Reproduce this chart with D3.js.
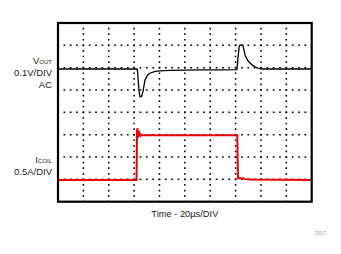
<!DOCTYPE html>
<html lang="en">
<head>
  <meta charset="UTF-8">
  <title>Load transient</title>
  <style>
    body { margin: 0; background: #fff; }
    text { font-family: "Liberation Sans", Arial, sans-serif; fill: #1a1a1a; }
  </style>
</head>
<body>
<div id="chart"></div>
<script src="https://d3js.org/d3.v7.min.js"></script>
<script>
  // time in us (20us/div), Vout in mV (AC, 0.1V/div), Icoil in A (0.5A/div)
  const vTime = [0, 30, 62.3, 62.7, 63.9, 64.6, 65.8, 67, 68.6, 70.6, 72.5, 76.5, 80.4, 88.3, 100, 112, 127.7, 141.1,
                 141.9, 142.8, 143.4, 145.8, 147.4, 149.4, 151.4, 153.8, 155.4, 157.7, 160.8, 200];
  const vOut  = [0, 0, 0, -10, -100, -124, -124, -100, -49, -27, -19, -11, -8, -6, -5, -4, -4, -3,
                 50, 100, 107, 107, 63, 40, 27, 15, 9, 4, 0, 0];

  const iTime = [0, 61.9, 62.3, 62.7, 63.1, 63.5, 63.9, 64.4, 65, 65.8, 67.4, 141.3, 141.9, 145.8, 147.4, 151.4, 200];
  const iCoil = [0, 0, 1.1, 1.16, 0.95, 1.08, 0.98, 1.04, 0.99, 1.01, 1.0, 1.0, 0.04, 0.04, 0.02, 0.01, 0];

  const width = 341, height = 254;
  const pLeft = 58, pRight = 311.7, pTop = 23, pBottom = 201.7;

  const svg = d3.select("#chart").append("svg")
    .attr("width", width)
    .attr("height", height);

  const x = d3.scaleLinear().domain([0, 200]).range([pLeft, pRight]);
  const y = d3.scaleLinear().domain([0, 8]).range([pTop, pBottom]);   // screen divisions

  // channel offsets (in divisions from top)
  const vZero = 2.06, iZero = 7.03;
  const vY = d => y(vZero - d / 100);
  const iY = d => y(iZero - d / 0.5);

  // dotted grid, 4 dots per division
  const dot = 1.7;
  const px = (x(20) - x(0)) / 4, py = (y(1) - y(0)) / 4;
  const grid = svg.append("g")
    .attr("stroke", "#000")
    .attr("stroke-width", 1.5);

  grid.selectAll(".gx")
    .data(d3.range(20, 200, 20))
    .enter().append("line")
    .attr("x1", d => x(d)).attr("x2", d => x(d))
    .attr("y1", pTop).attr("y2", pBottom)
    .attr("stroke-dasharray", `${dot},${py - dot}`)
    .attr("stroke-dashoffset", dot / 2);

  grid.selectAll(".gy")
    .data(d3.range(1, 8))
    .enter().append("line")
    .attr("y1", d => y(d)).attr("y2", d => y(d))
    .attr("x1", pLeft).attr("x2", pRight)
    .attr("stroke-dasharray", `${dot},${px - dot}`)
    .attr("stroke-dashoffset", dot / 2);

  const vLine = d3.line().x((d, i) => x(vTime[i])).y(d => vY(d));
  const iLine = d3.line().x((d, i) => x(iTime[i])).y(d => iY(d));

  svg.append("path")
    .attr("d", iLine(iCoil))
    .attr("fill", "none")
    .attr("stroke", "#ee0000")
    .attr("stroke-width", 2);

  svg.append("path")
    .attr("d", vLine(vOut))
    .attr("fill", "none")
    .attr("stroke", "#000")
    .attr("stroke-width", 1.3);

  // frame
  svg.append("rect")
    .attr("x", pLeft).attr("y", pTop)
    .attr("width", pRight - pLeft).attr("height", pBottom - pTop)
    .attr("fill", "none")
    .attr("stroke", "#000")
    .attr("stroke-width", 2.2);

  // labels
  const lab = svg.append("g")
    .attr("text-anchor", "end")
    .style("font-size", "9.5px");

  const vt = lab.append("text").attr("x", 52).attr("y", 64);
  vt.append("tspan").text("V");
  vt.append("tspan").style("font-size", "6px").text("OUT");
  lab.append("text").attr("x", 52).attr("y", 75.5).text("0.1V/DIV");
  lab.append("text").attr("x", 52).attr("y", 87.5).text("AC");

  const it = lab.append("text").attr("x", 52).attr("y", 163);
  it.append("tspan").text("I");
  it.append("tspan").style("font-size", "6px").text("COIL");
  lab.append("text").attr("x", 52).attr("y", 175).text("0.5A/DIV");

  svg.append("text")
    .attr("x", (pLeft + pRight) / 2)
    .attr("y", 217)
    .attr("text-anchor", "middle")
    .style("font-size", "9.3px")
    .text("Time - 20\u00b5s/DIV");

  svg.append("text")
    .attr("x", 326)
    .attr("y", 234.5)
    .attr("text-anchor", "end")
    .style("font-size", "4.5px")
    .style("fill", "#999")
    .text("D017");
</script>
</body>
</html>
